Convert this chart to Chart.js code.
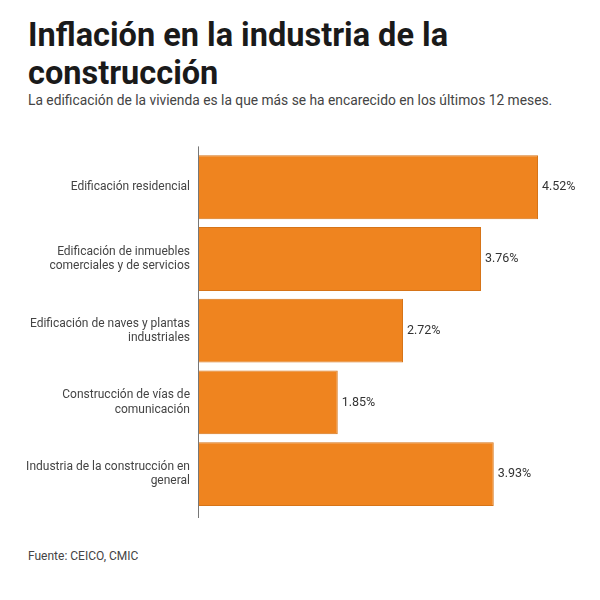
<!DOCTYPE html>
<html>
<head>
<meta charset="utf-8">
<script src="https://cdn.jsdelivr.net/npm/chart.js@4"></script>
<style>
  body { margin: 0; background: #fff; font-family: Roboto, sans-serif; }
  #wrap { position: relative; width: 600px; height: 600px; overflow: hidden; }
  h1 { position: absolute; left: 28px; top: 16px; margin: 0; width: 560px;
       font-size: 32.5px; line-height: 38px; font-weight: 700; color: #1a1a1a; }
  #sub { position: absolute; left: 28px; top: 92px; font-size: 13.8px; color: #444; }
  #fuente { position: absolute; left: 28px; top: 549px; font-size: 12px; color: #444; }
  #box { position: absolute; left: 0; top: 136px; width: 600px; height: 390px; }
</style>
</head>
<body>
<div id="wrap">
  <h1>Inflación en la industria de la construcción</h1>
  <div id="sub">La edificación de la vivienda es la que más se ha encarecido en los últimos 12 meses.</div>
  <div id="box"><canvas id="grafico"></canvas></div>
  <div id="fuente">Fuente: CEICO, CMIC</div>
</div>
<script>
const categorias = [
  ['Edificación residencial'],
  ['Edificación de inmuebles', 'comerciales y de servicios'],
  ['Edificación de naves y plantas', 'industriales'],
  ['Construcción de vías de', 'comunicación'],
  ['Industria de la construcción en', 'general']
];
const inflacion = [4.52, 3.76, 2.72, 1.85, 3.93];

// linea del eje y + etiquetas de valor
const extras = {
  id: 'extras',
  afterDatasetsDraw(chart) {
    const ctx = chart.ctx;
    const area = chart.chartArea;
    ctx.save();
    ctx.strokeStyle = '#777';
    ctx.lineWidth = 1;
    ctx.beginPath();
    ctx.moveTo(area.left - 0.5, area.top - 5);
    ctx.lineTo(area.left - 0.5, area.bottom + 8);
    ctx.stroke();
    ctx.fillStyle = '#333';
    ctx.font = '12.5px Roboto';
    ctx.textBaseline = 'middle';
    chart.getDatasetMeta(0).data.forEach((bar, i) => {
      ctx.fillText(inflacion[i].toFixed(2) + '%', bar.x + 4, bar.y);
    });
    ctx.restore();
  }
};

new Chart(document.getElementById('grafico'), {
  type: 'bar',
  data: {
    labels: categorias,
    datasets: [{
      data: inflacion,
      backgroundColor: '#EF841F',
      borderColor: '#D67418',
      borderWidth: 1,
      barPercentage: 0.89,
      categoryPercentage: 1
    }]
  },
  options: {
    indexAxis: 'y',
    responsive: true,
    maintainAspectRatio: false,
    animation: false,
    layout: { padding: { top: 0, bottom: 16, right: 26, left: 0 } },
    plugins: { legend: { display: false }, tooltip: { enabled: false } },
    scales: {
      x: { display: false, min: 0, max: 5 },
      y: {
        grid: { display: false },
        border: { display: false },
        ticks: { color: '#444', font: { size: 12, family: 'Roboto' }, padding: 1 },
        afterFit(scale) { scale.width = 199; }
      }
    }
  },
  plugins: [extras]
});
</script>
</body>
</html>
